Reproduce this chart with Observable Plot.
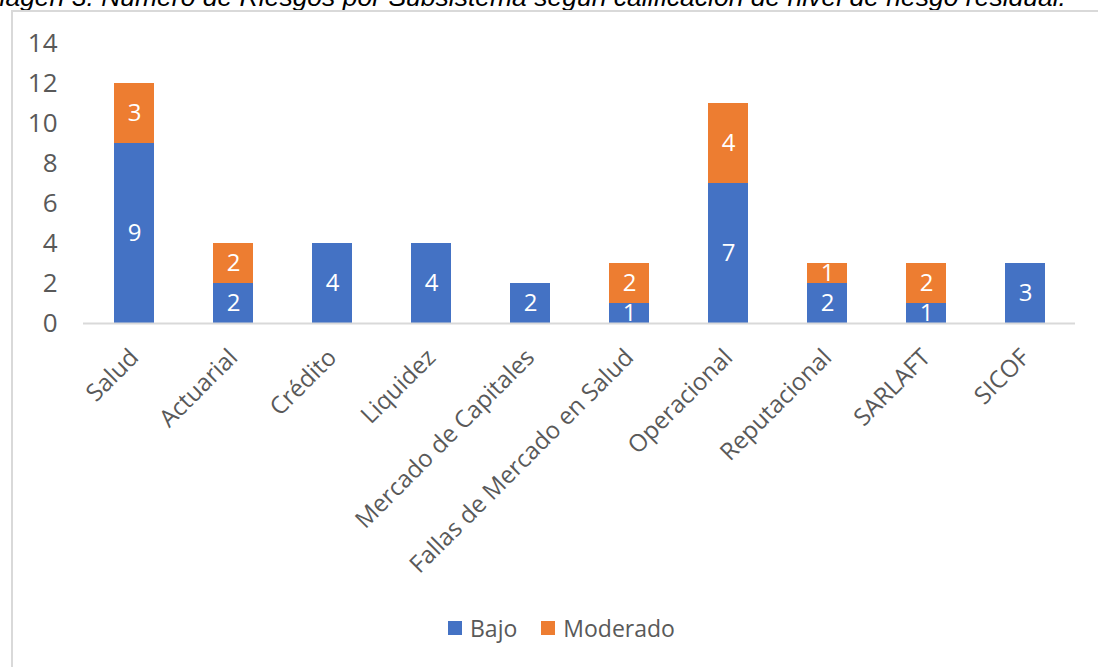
<!DOCTYPE html>
<html><head><meta charset="utf-8">
<script src="https://cdn.jsdelivr.net/npm/d3@7"></script>
<script src="https://cdn.jsdelivr.net/npm/@observablehq/plot@0.6"></script>
<style>
body{margin:0;background:#fff;overflow:hidden}
#wrap{position:relative;width:1098px;height:667px;overflow:hidden;background:#fff}
#title{position:absolute;right:32px;top:-18px;font:italic 26.5px "Liberation Sans",Arial,sans-serif;white-space:nowrap;color:#000;line-height:30px}
#frame{position:absolute;left:11px;top:10px;width:1100px;height:700px;border:2px solid #d9d9d9;box-sizing:border-box}
#chart{position:absolute;left:0;top:0}
#legend{position:absolute;top:612px;left:448px;display:flex;align-items:center;font:23px "Open Sans",sans-serif;color:#595959}
#legend .sw{display:inline-block;width:14px;height:14px;margin-right:8px}
#legend .item{display:flex;align-items:center;margin-right:24px}
</style>
</head><body>
<div id="wrap">
  <div id="title">Imagen 3. Número de Riesgos por Subsistema según calificación de nivel de riesgo residual.</div>
  <div id="frame"></div>
  <div id="chart"></div>
  <div id="legend"></div>
</div>
<script>
const categories = ["Salud","Actuarial","Crédito","Liquidez","Mercado de Capitales","Fallas de Mercado en Salud","Operacional","Reputacional","SARLAFT","SICOF"];
const bajo = [9,2,4,4,2,1,7,2,1,3];
const moderado = [3,2,0,0,0,2,4,1,2,0];
const series = ["Bajo","Moderado"];
const colors = ["#4472C4","#ED7D31"];
const yTicks = [0,2,4,6,8,10,12,14];

const rows = [];
categories.forEach((c,i) => {
  rows.push({cat:c, serie:"Bajo", value:bajo[i]});
  rows.push({cat:c, serie:"Moderado", value:moderado[i]});
});
const labelRows = rows.filter(d => d.value > 0);

const chart = Plot.plot({
  width: 1098,
  height: 600,
  marginTop: 43,
  marginBottom: 277,
  marginLeft: 83,
  marginRight: 23,
  style: {fontFamily: "'Open Sans', sans-serif", fontSize: "24px", color: "#595959", background: "transparent", overflow: "visible"},
  x: {domain: categories, paddingInner: 0.6, paddingOuter: 0.3, label: null},
  y: {domain: [0,14], label: null},
  color: {domain: series, range: colors},
  marks: [
    Plot.barY(rows, {x:"cat", y:"value", fill:"serie", order: series}),
    Plot.text(labelRows, Plot.stackY({x:"cat", y:"value", z:"serie", text: d => String(d.value), fill:"white", fontSize: 24, order: series})),
    Plot.ruleY([0], {stroke:"#d9d9d9", strokeWidth:2}),
    Plot.axisY({ticks: yTicks, tickSize: 0, tickPadding: 26, fontSize: 26, label: null}),
    Plot.axisX({tickSize: 0, tickRotate: -45, tickPadding: 30, fontSize: 24, label: null})
  ]
});
document.getElementById("chart").appendChild(chart);

const legend = document.getElementById("legend");
series.forEach((s,i) => {
  const it = document.createElement("span");
  it.className = "item";
  const sw = document.createElement("span");
  sw.className = "sw"; sw.style.background = colors[i];
  it.appendChild(sw);
  it.appendChild(document.createTextNode(s));
  legend.appendChild(it);
});
</script>
</body></html>
